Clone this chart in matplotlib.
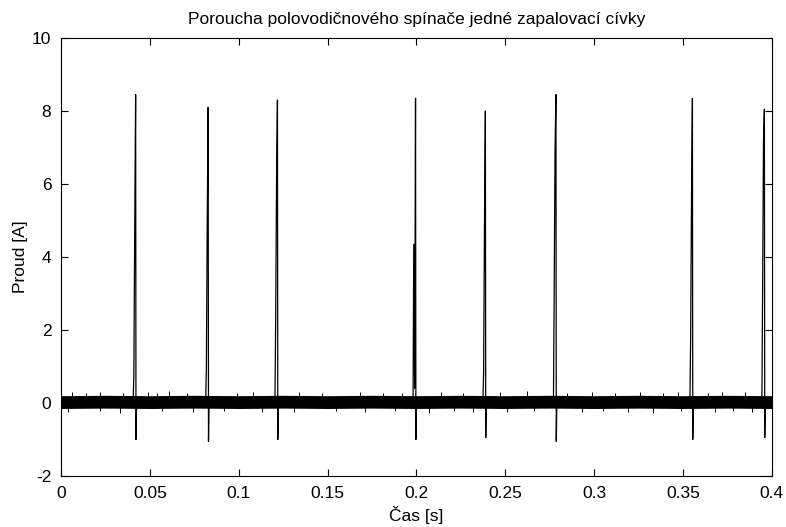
import matplotlib.pyplot as plt

plt.rcParams['font.family'] = ['Liberation Sans', 'DejaVu Sans']
plt.rcParams['axes.unicode_minus'] = False

# proud cívky - špičky při sepnutí
spike_t = [0.0420, 0.0828, 0.1218, 0.1995, 0.2388, 0.2785, 0.3553, 0.3958]
spike_lo = [0.8, 0.95, 2.3, 4.35, 0.8, 2.9, 1.8, 3.1]
spike_hi = [4.9, 5.05, 6.2, 0.4, 5.0, 6.9, 5.7, 7.2]
spike_peak = [8.45, 8.1, 8.3, 8.35, 8.0, 8.45, 8.35, 8.05]
spike_min = [-1.0, -1.05, -1.0, -1.0, -0.95, -1.05, -1.0, -0.95]
edge_dt = [-0.0014, -0.0010, -0.0005, 0.0, 0.0002, 0.0005]
base_level = 0.03

# šum kolem nuly (obálka)
band_t = [0.0, 0.025, 0.05, 0.075, 0.1, 0.125, 0.15, 0.175, 0.2,
          0.225, 0.25, 0.275, 0.3, 0.325, 0.35, 0.375, 0.4]
band_hi = [0.20, 0.21, 0.20, 0.21, 0.20, 0.21, 0.20, 0.21, 0.20,
           0.21, 0.20, 0.21, 0.20, 0.21, 0.20, 0.21, 0.20]
band_lo = [-0.15, -0.14, -0.15, -0.14, -0.15, -0.14, -0.15, -0.14, -0.15,
           -0.14, -0.15, -0.14, -0.15, -0.14, -0.15, -0.14, -0.15]

# jednotlivé výchylky šumu
blip_up_t = [0.006, 0.014, 0.022, 0.035, 0.049, 0.054, 0.061, 0.071, 0.099,
             0.108, 0.134, 0.147, 0.168, 0.181, 0.192, 0.214, 0.226, 0.247,
             0.262, 0.285, 0.299, 0.312, 0.326, 0.339, 0.347, 0.364, 0.372, 0.385]
blip_up_v = [0.30, 0.27, 0.31, 0.28, 0.30, 0.27, 0.32, 0.28, 0.28,
             0.30, 0.29, 0.27, 0.31, 0.28, 0.28, 0.30, 0.27, 0.29,
             0.32, 0.28, 0.29, 0.27, 0.30, 0.28, 0.31, 0.28, 0.29, 0.30]
blip_dn_t = [0.004, 0.022, 0.033, 0.057, 0.074, 0.092, 0.113, 0.131, 0.155,
             0.171, 0.188, 0.207, 0.221, 0.232, 0.251, 0.266, 0.293, 0.305,
             0.319, 0.333, 0.349, 0.368, 0.378, 0.389]
blip_dn_v = [-0.25, -0.22, -0.27, -0.23, -0.25, -0.22, -0.26, -0.24, -0.22,
             -0.25, -0.23, -0.27, -0.22, -0.24, -0.26, -0.22, -0.25, -0.23,
             -0.24, -0.27, -0.22, -0.25, -0.23, -0.26]

x_ticks = [0, 0.05, 0.1, 0.15, 0.2, 0.25, 0.3, 0.35, 0.4]
x_labels = ['0', '0.05', '0.1', '0.15', '0.2', '0.25', '0.3', '0.35', '0.4']
y_ticks = [-2, 0, 2, 4, 6, 8, 10]

fig = plt.figure(figsize=(7.86, 5.27), dpi=100)
ax = fig.add_axes([0.0776, 0.0968, 0.9044, 0.8311])

ax.fill_between(band_t, band_lo, band_hi, color='black', linewidth=0)
ax.vlines(blip_up_t, base_level, blip_up_v, color='black', linewidth=0.7)
ax.vlines(blip_dn_t, base_level, blip_dn_v, color='black', linewidth=0.7)

for t, lo, hi, pk, mn in zip(spike_t, spike_lo, spike_hi, spike_peak, spike_min):
    xs = [t + d for d in edge_dt]
    ys = [base_level, lo, hi, pk, mn, base_level]
    ax.plot(xs, ys, color='black', linewidth=0.9)

ax.set_xlim(0, 0.4)
ax.set_ylim(-2, 10)
ax.set_xticks(x_ticks)
ax.set_xticklabels(x_labels)
ax.set_yticks(y_ticks)
ax.tick_params(direction='in', top=True, right=True, length=5, width=0.8,
               labelsize=12.5, pad=7)
for s in ax.spines.values():
    s.set_linewidth(0.8)

ax.set_title('Poroucha polovodičnového spínače jedné zapalovací cívky',
             fontsize=12.5, pad=10)
ax.set_xlabel('Čas [s]', fontsize=12.5, labelpad=4)
ax.set_ylabel('Proud [A]', fontsize=12.5, labelpad=3)

fig.savefig('out.png', dpi=100)
